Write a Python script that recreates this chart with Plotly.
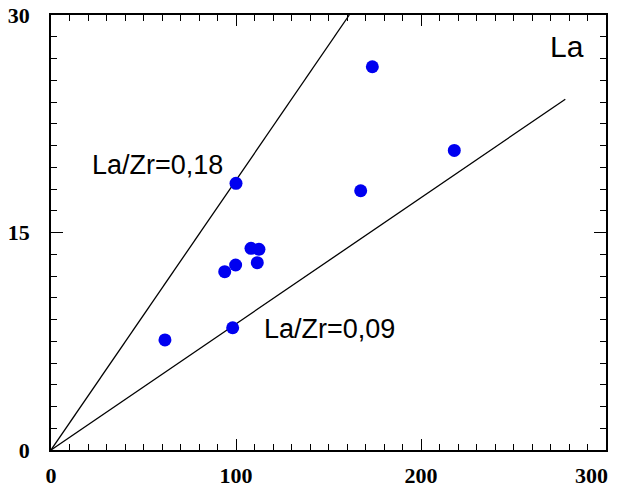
import plotly.graph_objects as go

# Data
zr = [61.6, 98.2, 93.9, 99.8, 100.0, 108.1, 112.4, 111.5, 167.4, 173.7, 218.0]
la = [7.59, 8.43, 12.30, 12.76, 18.39, 13.91, 13.84, 12.92, 17.88, 26.43, 20.66]

line_018_x = [0, 111.2 * 30 / 20.69]
line_018_y = [0, 30]
line_009_x = [0, 278]
line_009_y = [0, 24.19]

x_ticks = [0, 100, 200, 300]
x_tick_text = ["0", "100", "200", ""]   # last one drawn as annotation so it fits the page
y_ticks = [0, 15, 30]

fig = go.Figure()
fig.add_trace(go.Scatter(x=line_018_x, y=line_018_y, mode="lines",
                         line=dict(color="black", width=1.3), hoverinfo="skip"))
fig.add_trace(go.Scatter(x=line_009_x, y=line_009_y, mode="lines",
                         line=dict(color="black", width=1.3), hoverinfo="skip"))
fig.add_trace(go.Scatter(x=zr, y=la, mode="markers",
                         marker=dict(color="#0000f0", size=13, line=dict(width=0))))

label_font = dict(family="Liberation Sans, Arial", size=27, color="black")
fig.add_annotation(x=57.3, y=19.65, text="La/Zr=0,18", showarrow=False,
                   xanchor="center", yanchor="middle", font=label_font)
fig.add_annotation(x=150.3, y=8.34, text="La/Zr=0,09", showarrow=False,
                   xanchor="center", yanchor="middle", font=label_font)
fig.add_annotation(x=279, y=27.8, text="La", showarrow=False,
                   xanchor="center", yanchor="middle",
                   font=dict(family="Liberation Sans, Arial", size=30, color="black"))

tickfont = dict(family="Liberation Serif, Times New Roman", size=22, color="black", weight="bold")
fig.add_annotation(x=x_ticks[-1], y=0, text=str(x_ticks[-1]), showarrow=False,
                   xanchor="right", yanchor="middle", xshift=4, yshift=-25,
                   font=tickfont)
fig.update_xaxes(range=[0, 300], tickvals=x_ticks, ticktext=x_tick_text,
                 ticks="inside", ticklen=11, tickwidth=1.3,
                 tickcolor="black", showline=True, linecolor="black", linewidth=1.5,
                 mirror="ticks", showgrid=False, zeroline=False, tickfont=tickfont,
                 minor=dict(dtick=10, ticks="inside", ticklen=6, tickwidth=1.3, tickcolor="black"),
                 ticklabelstandoff=5, automargin=False, ticklabeloverflow="allow")
fig.update_yaxes(range=[0, 30], tickvals=y_ticks, ticks="inside", ticklen=12, tickwidth=1.3,
                 tickcolor="black", showline=True, linecolor="black", linewidth=1.5,
                 mirror="ticks", showgrid=False, zeroline=False, tickfont=tickfont,
                 minor=dict(dtick=1.5, ticks="inside", ticklen=6, tickwidth=1.3, tickcolor="black"),
                 ticklabelstandoff=15, automargin=False, ticklabeloverflow="allow")
fig.update_layout(width=620, height=490, showlegend=False,
                  plot_bgcolor="white", paper_bgcolor="white",
                  margin=dict(l=51, r=14, t=15, b=40))
fig.write_html("out.html", config={"displayModeBar": False},
               post_script="document.body.style.margin='0';document.body.style.overflow='hidden';")
